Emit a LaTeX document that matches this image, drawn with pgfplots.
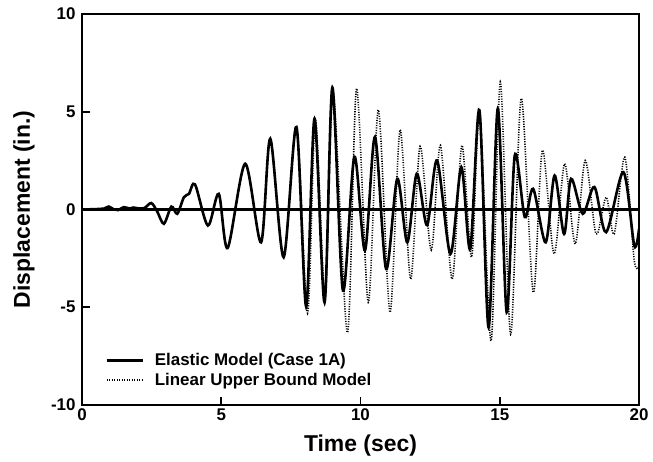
\documentclass[border=0pt]{standalone}
\usepackage{fontspec}
\setmainfont{Liberation Sans}
\usepackage{pgfplots}
\pgfplotsset{compat=1.18}
\begin{document}
\begin{tikzpicture}
\begin{axis}[
    name=ax,
    scale only axis,
    width=557bp, height=391bp,
    xmin=0, xmax=20, ymin=-10, ymax=10,
    xtick={0,5,10,15,20},
    ytick={-10,-5,0,5,10},
    tick align=inside,
    tick pos=left,
    major tick length=8bp,
    axis line style={line width=2.2bp},
    every tick/.style={black, line width=1.6bp},
    /pgf/number format/assume math mode=true,
    ticklabel style={font=\fontsize{17}{19}\selectfont\bfseries},
    yticklabel style={xshift=-3bp},
    xlabel={Time (sec)},
    ylabel={Displacement (in.)},
    label style={font=\fontsize{23}{26}\selectfont\bfseries},
    xlabel style={at={([yshift=-41bp]rel axis cs:0.5,0)}, anchor=center},
    ylabel style={at={([xshift=-58bp]rel axis cs:0,0.5)}, anchor=center},
    legend style={draw=none, fill=none, at={(axis cs:0.72,-7.16)}, anchor=north west,
        font=\fontsize{17}{19}\selectfont\bfseries, row sep=2bp},
    legend cell align=left,
    legend image code/.code={\draw[#1] (0bp,0bp) -- (36bp,0bp); \path (45bp,0bp);},
]

% elastic model (case 1A)
\addplot[black, line width=2.6bp, smooth] coordinates {
    (0,0) (0.5,0.02) (0.8,0.05) (0.96,0.15) (1.15,0.0) (1.3,-0.03) (1.5,0.12)
    (1.7,0.05) (1.85,0.1) (2.05,0.05) (2.25,0.08) (2.49,0.33) (2.7,-0.1)
    (2.94,-0.73) (3.21,0.15) (3.42,-0.22) (3.66,0.63) (3.84,0.8) (4.06,1.28)
    (4.52,-0.82) (4.91,0.8) (5.23,-1.97) (5.86,2.34) (6.43,-1.68) (6.76,3.62)
    (7.24,-2.44) (7.70,4.22) (8.05,-4.97) (8.35,4.65) (8.71,-4.75) (8.99,6.24)
    (9.37,-4.15) (9.78,2.7) (10.16,-2.1) (10.52,3.71) (10.92,-3.04) (11.32,1.57)
    (11.68,-1.68) (12.02,1.83) (12.39,-0.8) (12.75,2.51) (13.23,-2.27)
    (13.62,2.17) (13.94,-2.02) (14.27,5.08) (14.6,-6.03) (14.93,5.16)
    (15.25,-5.26) (15.54,2.77) (15.9,-0.39) (16.2,1.06) (16.65,-1.68)
    (16.97,1.74) (17.31,-1.25) (17.56,1.57) (17.98,-0.22) (18.4,1.15)
    (18.82,-1.16) (19.44,1.91) (19.83,-1.85) (20,-1.0)
};
\addlegendentry{Elastic Model (Case 1A)}

% linear upper bound model
\addplot[black, line width=1.6bp, dash pattern=on 1.1bp off 1.4bp, smooth] coordinates {
    (0,0) (0.5,0.02) (0.8,0.05) (0.96,0.15) (1.15,0.0) (1.3,-0.03) (1.5,0.12)
    (1.7,0.05) (1.85,0.1) (2.05,0.05) (2.25,0.08) (2.49,0.33) (2.7,-0.1)
    (2.94,-0.73) (3.21,0.15) (3.42,-0.22) (3.66,0.63) (3.84,0.8) (4.06,1.28)
    (4.52,-0.82) (4.91,0.8) (5.23,-1.97) (5.86,2.34) (6.43,-1.68) (6.76,3.62)
    (7.24,-2.44) (7.70,4.22) (8.1,-5.3) (8.38,4.6) (8.73,-4.5) (9.02,6.0)
    (9.53,-6.3) (9.86,6.19) (10.28,-4.75) (10.64,5.1) (11.06,-5.26) (11.42,4.08)
    (11.8,-3.56) (12.14,3.23) (12.54,-2.07) (12.87,3.28) (13.29,-3.56)
    (13.64,3.28) (13.99,-2.44) (14.28,4.9) (14.69,-6.72) (15.02,6.53)
    (15.39,-6.38) (15.77,5.68) (16.2,-4.24) (16.53,3.03) (16.95,-2.27)
    (17.33,2.34) (17.71,-1.76) (18.07,2.51) (18.46,-1.25) (18.82,0.63)
    (19.11,-1.25) (19.49,2.68) (19.83,-2.6) (20,-2.9)
};
\addlegendentry{Linear Upper Bound Model}

% zero line
\addplot[black, line width=2.2bp, forget plot] coordinates {(0,0) (20,0)};
\end{axis}
\pgfresetboundingbox
\path[use as bounding box] ([xshift=-82bp,yshift=-57bp]ax.south west)
    rectangle ([xshift=14bp,yshift=14bp]ax.north east);
\end{tikzpicture}
\end{document}
